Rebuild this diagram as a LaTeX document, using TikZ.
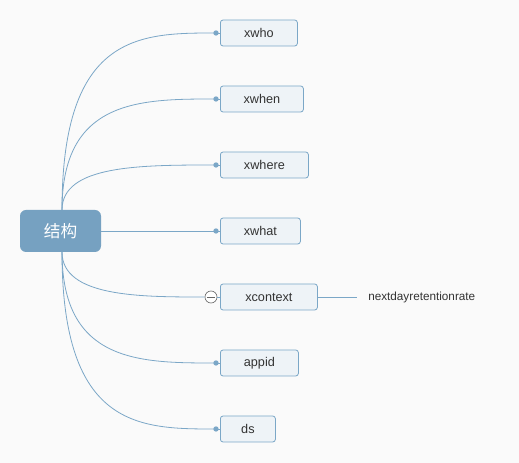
\documentclass[tikz,border=0pt]{standalone}
\usepackage{fontspec}
\setmainfont{Liberation Sans}
\newfontfamily\cjk{Noto Sans CJK SC}
\definecolor{bg}{HTML}{FAFAFA}
\definecolor{rootfill}{HTML}{76A1C1}
\definecolor{leaffill}{HTML}{EEF3F7}
\definecolor{leafdraw}{HTML}{7BA7C7}
\definecolor{linec}{HTML}{7BA7C7}
\definecolor{txt}{HTML}{333333}
\begin{document}
\begin{tikzpicture}[x=0.75pt,y=-0.75pt,
  rootbox/.style={fill=rootfill,rounded corners=4.5pt,minimum width=60.75pt,minimum height=31.5pt,inner sep=0pt,text=white,font=\cjk\fontsize{12.5}{14}\selectfont},
  leaf/.style={draw=leafdraw,fill=leaffill,rounded corners=2pt,line width=0.6pt,minimum height=19.5pt,inner sep=0pt,anchor=west,text=txt,font=\fontsize{9.5}{11}\selectfont},
  conn/.style={draw=linec,line width=0.6pt},
  dotc/.style={circle,fill=linec,inner sep=0pt,minimum size=4pt}
]
\fill[bg] (0,0) rectangle (519,463);
\useasboundingbox (0,0) rectangle (519,463);
\node[rootbox] (root) at (60.5,231) {结构};
\coordinate (rt) at (62,210);
\coordinate (rb) at (62,252);
\node[leaf,minimum width=57.75pt] (n1) at (220,33) {xwho};
\node[leaf,minimum width=62.25pt] (n2) at (220,99) {xwhen};
\node[leaf,minimum width=66pt] (n3) at (220,165) {xwhere};
\node[leaf,minimum width=60pt] (n4) at (220,231) {xwhat};
\node[leaf,minimum width=72.75pt] (n5) at (220,297) {xcontext};
\node[leaf,minimum width=58.5pt] (n6) at (220,363) {appid};
\node[leaf,minimum width=41.25pt] (n7) at (220,429) {ds};
\node[anchor=west,inner sep=0pt,text=txt,font=\fontsize{8.8}{10}\selectfont] (n8) at (368,297) {nextdayretentionrate};
\coordinate (e8) at (357,297);
% dots
\node[dotc] (d1) at (216,33) {};
\node[dotc] (d2) at (216,99) {};
\node[dotc] (d3) at (216,165) {};
\node[dotc] (d4) at (216,231) {};
\node[dotc] (d6) at (216,363) {};
\node[dotc] (d7) at (216,429) {};
\node[circle,draw=gray!80!black,fill=white,line width=0.5pt,minimum size=9pt,inner sep=0pt] (c5) at (211,297) {};
% connectors
\draw[conn] (rt) .. controls (62,33) and (140,33) .. (d1.center);
\draw[conn] (rt) .. controls (62,99) and (140,99) .. (d2.center);
\draw[conn] (rt) .. controls (62,165) and (140,165) .. (d3.center);
\draw[conn] (root.east) -- (d4.center);
\draw[conn] (rb) .. controls (62,297) and (140,297) .. (c5.west);
\draw[conn] (rb) .. controls (62,363) and (140,363) .. (d6.center);
\draw[conn] (rb) .. controls (62,429) and (140,429) .. (d7.center);
\draw[conn] (d1.center) -- (n1.west);
\draw[conn] (d2.center) -- (n2.west);
\draw[conn] (d3.center) -- (n3.west);
\draw[conn] (d4.center) -- (n4.west);
\draw[conn] (d6.center) -- (n6.west);
\draw[conn] (d7.center) -- (n7.west);
\draw[conn] (c5.east) -- (n5.west);
\draw[gray!80!black,line width=0.5pt] ([xshift=-3pt]c5.center) -- ([xshift=3pt]c5.center);
\draw[conn] (n5.east) -- (e8);
\end{tikzpicture}
\end{document}
